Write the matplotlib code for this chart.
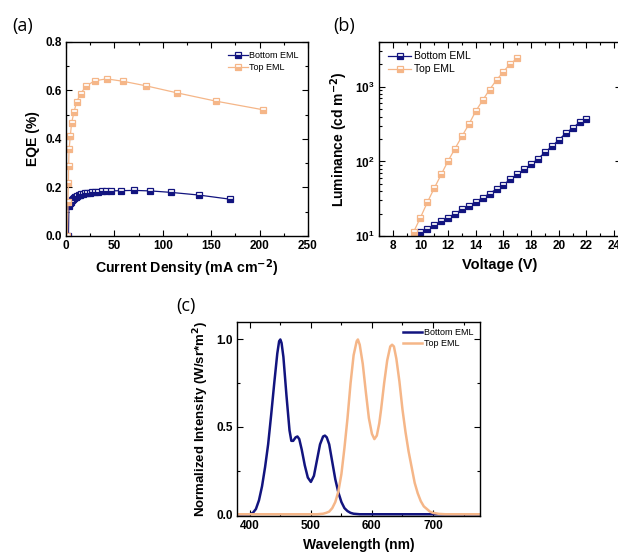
import matplotlib
matplotlib.use("Agg")
import matplotlib.pyplot as plt
from matplotlib.ticker import MultipleLocator, LogLocator, NullFormatter

# --- data ---
# (a) EQE vs current density
j_bottom = [2.5, 3, 4, 5, 6, 7, 8, 9, 10, 11.5, 13, 14.5, 16, 18, 20, 22, 24.5, 27, 30,
            33.5, 37.5, 41.5, 46, 57, 70, 87, 108, 137, 169]
eqe_bottom = [0.0, 0.125, 0.135, 0.142, 0.148, 0.152, 0.156, 0.159, 0.162, 0.165, 0.168,
              0.170, 0.172, 0.174, 0.176, 0.178, 0.179, 0.180, 0.181, 0.183, 0.184, 0.185,
              0.186, 0.187, 0.188, 0.186, 0.180, 0.169, 0.152]
j_top = [1.5, 2, 2.5, 2.7, 3.2, 4.5, 5.8, 8.3, 11, 15, 21, 29.6, 42, 59, 83, 115, 155, 203]
eqe_top = [0.0, 0.141, 0.22, 0.29, 0.358, 0.414, 0.467, 0.512, 0.553, 0.587, 0.619, 0.64,
           0.648, 0.638, 0.619, 0.59, 0.556, 0.521]

# (b) luminance vs voltage
v_bottom = [10, 10.5, 11, 11.5, 12, 12.5, 13, 13.5, 14, 14.5, 15, 15.5, 16, 16.5, 17, 17.5,
            18, 18.5, 19, 19.5, 20, 20.5, 21, 21.5, 22]
lum_bottom = [11.2, 12.5, 13.9, 15.7, 17.7, 20, 22.7, 25.6, 28.7, 32.8, 37, 42.8, 48.9, 57.5,
              67, 78, 91, 109, 132, 160, 194, 239, 281, 334, 374]
v_top = [9.5, 10, 10.5, 11, 11.5, 12, 12.5, 13, 13.5, 14, 14.5, 15, 15.5, 16, 16.5, 17]
lum_top = [11.3, 17.7, 28.4, 44, 67, 102, 149, 218, 315, 474, 664, 921, 1240, 1600, 2050, 2410]

# (c) normalized EL spectra
wl_bottom = [380, 400, 405, 410, 415, 420, 425, 430, 435, 440, 445, 448, 450, 452, 455, 460,
             465, 468, 471, 475, 478, 481, 485, 490, 495, 500, 505, 510, 515, 520, 523, 526,
             530, 535, 540, 545, 550, 555, 560, 565, 570, 580, 780]
int_bottom = [0.0, 0.0, 0.008, 0.03, 0.08, 0.16, 0.27, 0.40, 0.57, 0.75, 0.92, 0.99, 1.0,
              0.98, 0.90, 0.68, 0.48, 0.42, 0.42, 0.44, 0.445, 0.43, 0.37, 0.28, 0.21, 0.185,
              0.22, 0.31, 0.40, 0.445, 0.45, 0.44, 0.40, 0.30, 0.20, 0.125, 0.07, 0.035,
              0.018, 0.008, 0.003, 0.0, 0.0]
wl_top = [380, 500, 510, 520, 525, 530, 535, 540, 545, 550, 555, 560, 565, 570, 575, 577,
          580, 585, 590, 595, 600, 604, 608, 612, 615, 620, 625, 630, 633, 636, 640, 645,
          650, 655, 660, 665, 670, 675, 680, 685, 690, 695, 700, 710, 720, 780]
int_top = [0.0, 0.0, 0.0, 0.003, 0.008, 0.015, 0.035, 0.07, 0.13, 0.23, 0.38, 0.55, 0.75,
           0.91, 0.99, 1.0, 0.97, 0.86, 0.70, 0.55, 0.46, 0.43, 0.45, 0.52, 0.60, 0.75, 0.88,
           0.96, 0.97, 0.96, 0.89, 0.76, 0.60, 0.47, 0.36, 0.27, 0.18, 0.12, 0.075, 0.045,
           0.03, 0.015, 0.008, 0.002, 0.0, 0.0]

navy = "#12147f"
orange = "#f5b688"

plt.rcParams["font.family"] = ["Liberation Sans", "DejaVu Sans"]
plt.rcParams["xtick.direction"] = "in"
plt.rcParams["ytick.direction"] = "in"
plt.rcParams["xtick.top"] = True
plt.rcParams["ytick.right"] = True

W, H = 618, 554
fig = plt.figure(figsize=(W / 100, H / 100), dpi=100)


def box(l, r, t, b):
    return [l / W, (H - b) / H, (r - l) / W, (b - t) / H]


def style(ax):
    ax.tick_params(which="major", length=4, width=0.8, labelsize=8.5, pad=3)
    ax.tick_params(which="minor", length=2, width=0.8)
    for lab in ax.get_xticklabels() + ax.get_yticklabels():
        lab.set_fontweight("bold")
    for s in ax.spines.values():
        s.set_linewidth(1.0)


mk = dict(marker="s", markersize=5, fillstyle="bottom", markerfacecoloralt="white",
          markeredgewidth=0.9, linewidth=0.9)

# (a)
ax1 = fig.add_axes(box(66, 308, 42, 236))
ax1.plot(j_bottom, eqe_bottom, color=navy, label="Bottom EML", **mk)
ax1.plot(j_top, eqe_top, color=orange, label="Top EML", **mk)
ax1.set_xlim(0, 250)
ax1.set_ylim(0, 0.8)
ax1.xaxis.set_major_locator(MultipleLocator(50))
ax1.xaxis.set_minor_locator(MultipleLocator(25))
ax1.yaxis.set_major_locator(MultipleLocator(0.2))
ax1.yaxis.set_minor_locator(MultipleLocator(0.1))
ax1.set_xlabel("Current Density (mA cm$^{\\mathbf{-2}}$)", fontsize=10.2, fontweight="bold")
ax1.set_ylabel("EQE (%)", fontsize=10, fontweight="bold")
ax1.legend(loc="upper right", fontsize=6.5, frameon=False, handlelength=2.2,
           handletextpad=0.2, labelspacing=0.3, borderaxespad=0.6)
style(ax1)

# (b)
ax2 = fig.add_axes(box(379, 621, 42, 236))
ax2.plot(v_bottom, lum_bottom, color=navy, label="Bottom EML", **mk)
ax2.plot(v_top, lum_top, color=orange, label="Top EML", **mk)
ax2.set_yscale("log")
ax2.set_xlim(7, 24.5)
ax2.set_ylim(10, 4000)
ax2.xaxis.set_major_locator(MultipleLocator(2))
ax2.xaxis.set_minor_locator(MultipleLocator(1))
ax2.yaxis.set_major_locator(LogLocator(base=10))
ax2.yaxis.set_minor_locator(LogLocator(base=10, subs=range(2, 10)))
ax2.yaxis.set_minor_formatter(NullFormatter())
ax2.set_xlabel("Voltage (V)", fontsize=10.5, fontweight="bold")
ax2.set_ylabel("Luminance (cd m$^{\\mathbf{-2}}$)", fontsize=10, fontweight="bold")
ax2.legend(loc="upper left", fontsize=7.5, frameon=False, handlelength=2.2,
           handletextpad=0.3, labelspacing=0.3, borderaxespad=0.5)
style(ax2)

# (c)
ax3 = fig.add_axes(box(237, 480, 322, 516))
ax3.plot(wl_bottom, int_bottom, color=navy, linewidth=1.8, label="Bottom EML")
ax3.plot(wl_top, int_top, color=orange, linewidth=1.8, label="Top EML")
ax3.set_xlim(379, 777)
ax3.set_ylim(-0.01, 1.1)
ax3.xaxis.set_major_locator(MultipleLocator(100))
ax3.xaxis.set_minor_locator(MultipleLocator(50))
ax3.yaxis.set_major_locator(MultipleLocator(0.5))
ax3.yaxis.set_minor_locator(MultipleLocator(0.25))
ax3.set_xlabel("Wavelength (nm)", fontsize=10, fontweight="bold")
ax3.set_ylabel("Normalized Intensity (W/sr*m$^{\\mathbf{2}}$)", fontsize=9.5, fontweight="bold")
ax3.legend(loc="upper right", fontsize=6.5, frameon=False, handlelength=2.2,
           handletextpad=0.2, labelspacing=0.2, borderaxespad=0.3)
style(ax3)

# panel letters
fig.text(12 / W, 1 - 31 / H, "(a)", fontsize=13, family="Open Sans")
fig.text(333 / W, 1 - 31 / H, "(b)", fontsize=13, family="Open Sans")
fig.text(176 / W, 1 - 311 / H, "(c)", fontsize=13, family="Open Sans")

fig.savefig("out.png", dpi=100)
